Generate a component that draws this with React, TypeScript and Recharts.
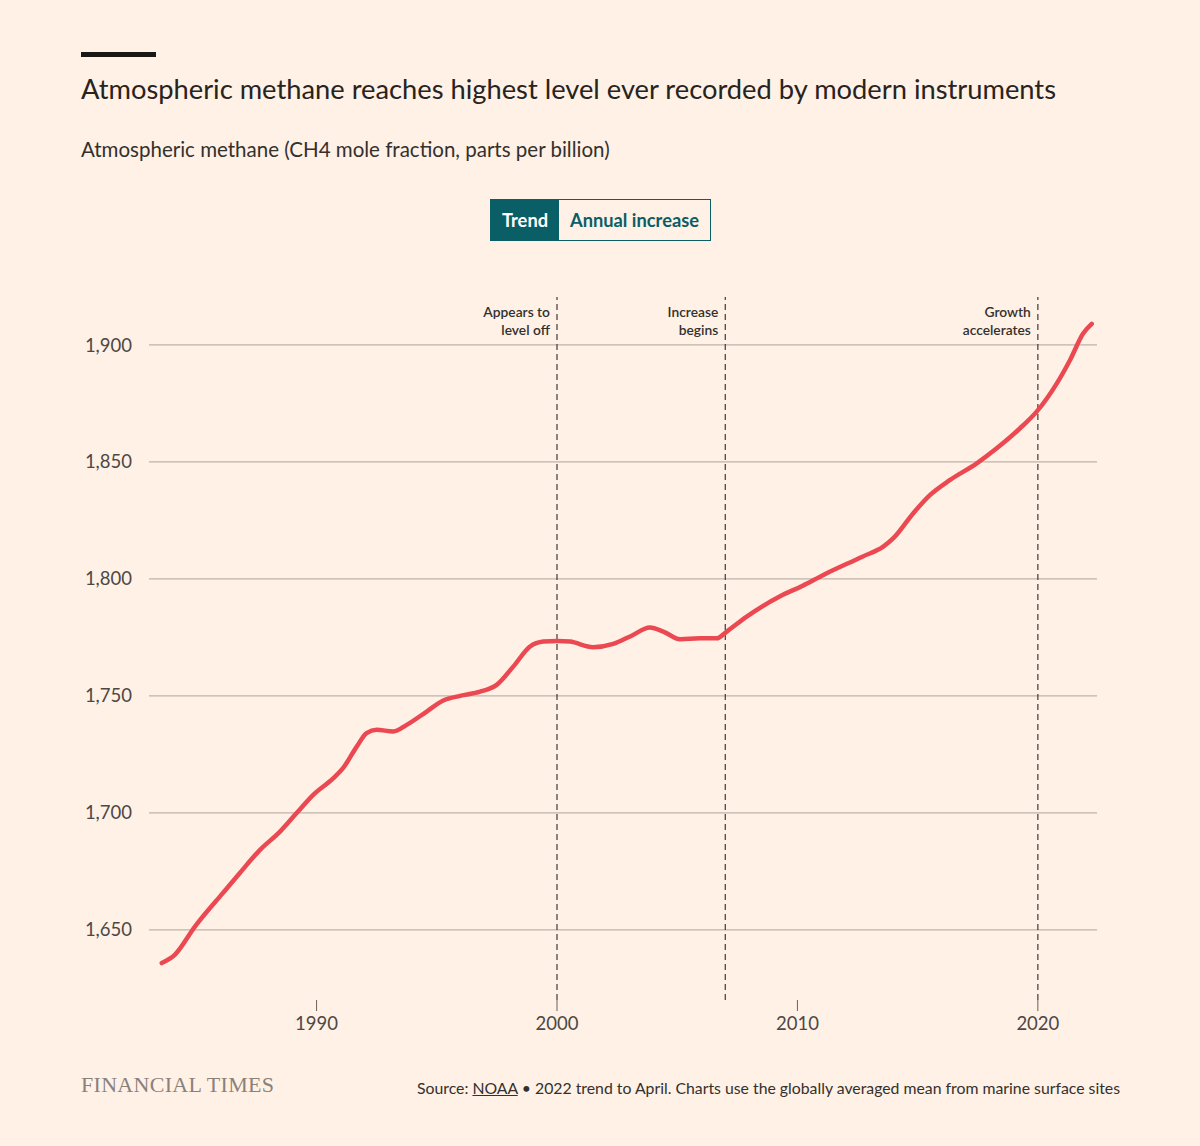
import React from "react";
import { LineChart, Line, XAxis, YAxis, ReferenceLine } from "recharts";

const years = [
  1983.56, 1984.1, 1984.94, 1986.1, 1986.8, 1987.65, 1988.48, 1989.17, 1989.86, 1990.7,
  1991.1, 1991.67, 1992.08, 1992.5, 1993.19, 1993.75, 1994.58, 1995.27, 1995.97, 1996.8,
  1997.49, 1998.18, 1998.88, 1999.43, 2000.03, 2000.54, 2001.5, 2002.34, 2003.04, 2003.87,
  2004.42, 2005.12, 2005.95, 2006.64, 2007.06, 2007.89, 2009.28, 2010.2, 2011.1, 2012.7,
  2013.57, 2013.99, 2014.82, 2015.52, 2016.35, 2017.46, 2018.29, 2019.26, 2019.95, 2020.79,
  2021.34, 2021.89, 2022.24,
];
const methane = [
  1635.8, 1639.3, 1651.4, 1665.7, 1674.2, 1684.2, 1692.0, 1699.9, 1707.7, 1714.8,
  1719.1, 1728.3, 1734.1, 1735.5, 1734.8, 1737.6, 1743.3, 1748.0, 1750.0, 1751.8,
  1754.7, 1762.5, 1771.1, 1773.2, 1773.5, 1773.2, 1770.8, 1772.2, 1775.4, 1779.2,
  1777.5, 1774.2, 1774.6, 1774.6, 1777.5, 1783.9, 1792.6, 1797.0, 1801.8, 1809.5,
  1813.8, 1817.4, 1828.1, 1835.9, 1842.3, 1849.4, 1855.8, 1864.4, 1871.5, 1883.6,
  1893.6, 1905.0, 1909.0,
];
const yTicks = [1650, 1700, 1750, 1800, 1850, 1900];
const xTicks = [1990, 2000, 2010, 2020];
const eventYears = [2000, 2007, 2020];
const eventLabels = [
  ["Appears to", "level off"],
  ["Increase", "begins"],
  ["Growth", "accelerates"],
];

const data = years.map((y, i) => ({ year: y, value: methane[i] }));

const FONT = "Lato, 'Noto Sans', sans-serif";
const TEXT = "#33302E";
const TEAL = "#0A5E66";

function EventLabel(props: any) {
  const { viewBox, lines } = props;
  if (!viewBox) return null;
  const x = viewBox.x - 7;
  const y = viewBox.y;
  return (
    <g>
      {lines.map((l: string, i: number) => (
        <text
          key={i}
          x={x}
          y={y + 20 + i * 18}
          textAnchor="end"
          fontFamily={FONT}
          fontSize={13.8}
          fontWeight={600}
          fill={TEXT}
        >
          {l}
        </text>
      ))}
    </g>
  );
}

export default function App() {
  return (
    <div
      style={{
        position: "absolute",
        left: 0,
        top: 0,
        width: 1200,
        height: 1146,
        background: "#FFF1E5",
        overflow: "hidden",
        fontFamily: FONT,
        color: TEXT,
      }}
    >
      <div style={{ position: "absolute", left: 0, top: 0 }}>
        <LineChart
          width={1200}
          height={1146}
          data={data}
          margin={{ top: 297, right: 103, bottom: 106, left: 0 }}
        >
          <XAxis
            dataKey="year"
            type="number"
            domain={[1983.03, 2022.46]}
            ticks={xTicks}
            allowDataOverflow
            axisLine={false}
            tickLine={{ stroke: "#6B635D", strokeWidth: 1 }}
            tickSize={11}
            tickMargin={6}
            height={40}
            tick={{ fontFamily: FONT, fontSize: 18.5, fill: "#4D4845" }}
          />
          <YAxis
            type="number"
            domain={[1620, 1920.5]}
            ticks={yTicks}
            allowDataOverflow
            axisLine={false}
            tickLine={false}
            tickSize={6}
            tickMargin={11}
            width={149}
            tickFormatter={(v: number) => v.toLocaleString("en-US")}
            tick={{ fontFamily: FONT, fontSize: 18.5, fill: "#4D4845" }}
          />
          {yTicks.map((t) => (
            <ReferenceLine key={"g" + t} y={t} stroke="#BDB3A8" strokeWidth={1.2} />
          ))}
          {eventYears.map((ey, i) => (
            <ReferenceLine
              key={ey}
              x={ey}
              stroke="#4D4845"
              strokeWidth={1.3}
              strokeDasharray="6 4"
              label={<EventLabel lines={eventLabels[i]} />}
            />
          ))}
          <Line
            type="monotone"
            dataKey="value"
            stroke="#EB4852"
            strokeWidth={4.5}
            strokeLinecap="round"
            dot={false}
            activeDot={false}
            isAnimationActive={false}
          />
        </LineChart>
      </div>

      <div style={{ position: "absolute", left: 81, top: 52, width: 75, height: 5, background: "#1A1817" }} />
      <div
        style={{
          position: "absolute",
          left: 81,
          top: 71,
          fontSize: 27.3,
          lineHeight: "36px",
          whiteSpace: "nowrap",
          color: "#262321",
        }}
      >
        Atmospheric methane reaches highest level ever recorded by modern instruments
      </div>
      <div
        style={{
          position: "absolute",
          left: 81,
          top: 136,
          fontSize: 20.5,
          lineHeight: "26px",
          whiteSpace: "nowrap",
          color: TEXT,
        }}
      >
        Atmospheric methane (CH4 mole fraction, parts per billion)
      </div>

      <div
        style={{
          position: "absolute",
          left: 490,
          top: 199,
          width: 221,
          height: 42,
          boxSizing: "border-box",
          border: `1px solid ${TEAL}`,
          display: "flex",
          fontSize: 18.3,
          fontWeight: 700,
        }}
      >
        <div
          style={{
            width: 68,
            background: TEAL,
            color: "#FFFFFF",
            display: "flex",
            alignItems: "center",
            justifyContent: "center",
          }}
        >
          Trend
        </div>
        <div
          style={{
            flex: 1,
            color: TEAL,
            display: "flex",
            alignItems: "center",
            justifyContent: "center",
          }}
        >
          Annual increase
        </div>
      </div>

      <div
        style={{
          position: "absolute",
          left: 81,
          top: 1071,
          fontFamily: "'Liberation Serif', 'DejaVu Serif', serif",
          fontSize: 22,
          lineHeight: "28px",
          letterSpacing: 0.3,
          color: "#8A817B",
          whiteSpace: "nowrap",
        }}
      >
        FINANCIAL TIMES
      </div>
      <div
        style={{
          position: "absolute",
          right: 80,
          top: 1077,
          fontSize: 15.8,
          lineHeight: "22px",
          whiteSpace: "nowrap",
          color: TEXT,
        }}
      >
        Source: <span style={{ textDecoration: "underline" }}>NOAA</span> • 2022 trend to April. Charts use the
        globally averaged mean from marine surface sites
      </div>
    </div>
  );
}
